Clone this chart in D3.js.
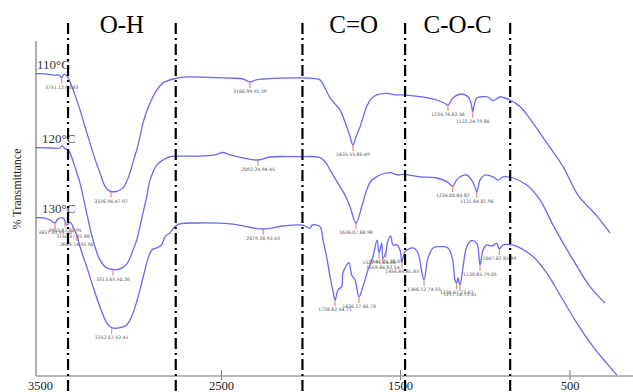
<!DOCTYPE html>
<html>
<head>
<meta charset="utf-8">
<script src="https://cdn.jsdelivr.net/npm/d3@7"></script>
<style>
  body { margin: 0; background: #fff; }
  svg { display: block; }
</style>
</head>
<body>
<svg id="chart" width="633" height="392"></svg>
<script>
// tick labels on the wavenumber axis (cm-1)
const tickValues = [3500, 2500, 1500, 500];

// band boundaries (wavenumber) and group names
const bandLines = [3345, 2750, 2045, 1470, 850];
const bands = [
  { name: "O-H", from: 3345, to: 2750 },
  { name: "C=O", from: 2045, to: 1470 },
  { name: "C-O-C", from: 1470, to: 850 }
];

const seriesNames = ["110°C", "120°C", "130°C"];

// [wavenumber, transmittance (stacked, arbitrary offset)]
const t110 = [
  [3522,100.8],[3472,100.7],[3417,100.3],[3395,100.3],[3380,99.5],[3367,100.5],[3351,100],
  [3334,98],[3307,93.7],[3279,88.7],[3251,83],[3224,77.7],[3196,72.3],[3169,67.7],[3141,63.3],
  [3124,62],[3108,61.5],[3080,61.5],[3058,62],[3041,62.7],[3025,64.3],[3003,67.7],[2986,71.3],
  [2966,75.3],[2948,79.7],[2931,84.3],[2912,88],[2892,91],[2855,95.3],[2820,97.7],[2765,99],
  [2689,99.7],[2561,99.5],[2450,99.3],[2377,99],[2338,98],[2304,98.7],[2265,99],[2170,99.3],
  [2075,99.4],[2003,99.3],[1947,98.7],[1919,96],[1891,92.7],[1863,90.7],[1835,88.7],[1798,83.1],
  [1780,80],[1763,77],[1746,79.7],[1723,83.1],[1686,89.8],[1662,92.3],[1630,93.7],[1574,94.2],
  [1528,93.7],[1482,93.7],[1382,93.1],[1283,92],[1240,91],[1217,90.3],[1187,92.7],[1136,94],
  [1099,93.1],[1081,91],[1071,88.1],[1060,91],[1047,92.7],[1010,93.1],[981,93],[951,91.8],
  [910,93],[851,92],[792,89.8],[715,84.3],[634,77.7],[538,69.8],[450,60.3],[344,53.7],[261,47.7]
];
const t120 = [
  [3522,76.1],[3445,76],[3390,76],[3378,76.7],[3362,75.8],[3345,75.3],[3334,74.3],[3307,69.7],
  [3279,64.3],[3242,54.3],[3207,45.3],[3169,38.7],[3131,36],[3097,35.5],[3069,35.5],[3041,36.3],
  [3021,37.3],[3003,39.3],[2986,42],[2966,45.3],[2948,49.7],[2931,54.3],[2912,59.3],[2892,65.3],
  [2855,70.3],[2820,72],[2782,73.1],[2745,73.3],[2634,73.3],[2533,73.7],[2489,74.5],[2450,73.7],
  [2377,72.7],[2293,72],[2226,73],[2077,73.1],[1947,72.8],[1913,71],[1891,68.7],[1835,63.1],
  [1807,60.3],[1779,56.4],[1746,51],[1714,56.4],[1686,62],[1662,65],[1630,66.4],[1589,67.5],
  [1556,67.8],[1511,67],[1482,67.2],[1382,66.4],[1283,66],[1224,64.8],[1189,63.3],[1170,65],
  [1146,66.4],[1106,67],[1077,65.3],[1060,63.3],[1047,61.4],[1037,63.3],[1028,65.3],[999,67],
  [951,66.4],[922,65.3],[892,66.4],[833,66],[752,63.7],[674,58.7],[597,50.3],[479,38.7],
  [379,29.8],[290,24.3]
];
const t130 = [
  [3522,52.8],[3483,52.7],[3445,52],[3417,51],[3401,52.3],[3373,52.7],[3362,51.6],[3352,50.3],[3334,51.3],
  [3318,49.8],[3297,47],[3279,43.1],[3242,36.4],[3207,29.8],[3169,23.1],[3131,17.7],[3104,16.1],
  [3058,16.1],[3021,17],[2986,21],[2948,28.7],[2910,37.7],[2892,41],[2876,42.3],[2855,42.7],
  [2828,43.7],[2809,46.4],[2782,47.7],[2754,49.8],[2727,50.7],[2634,51],[2450,50.7],[2265,49],
  [2154,50],[2042,50.3],[2003,49.3],[1992,50.3],[1947,49.8],[1930,45.3],[1910,39.8],[1891,33.1],
  [1874,28.1],[1863,25.3],[1846,28.7],[1826,29.8],[1819,34.3],[1798,37],[1785,37.8],[1770,33.7],
  [1751,32],[1729,26.4],[1707,29.8],[1679,35.3],[1651,39.8],[1628,45.3],[1617,41],[1602,44.3],
  [1596,39.3],[1578,41.4],[1571,44.3],[1552,46.7],[1539,43.7],[1518,43.7],[1500,42],[1488,38.1],
  [1471,41.4],[1423,42.7],[1394,41],[1372,34.8],[1358,32],[1335,39.3],[1305,42.7],[1264,43.1],
  [1217,42.7],[1189,38.7],[1176,32],[1166,31],[1158,32.7],[1146,30.3],[1128,36.4],[1106,43.1],
  [1077,45.1],[1047,44.3],[1028,37],[1010,42],[988,43.7],[959,43.3],[929,44.2],[914,42.3],
  [892,43.7],[841,43.7],[792,42.7],[715,39.8],[634,34.3],[556,27],[457,17.7],[361,9.8],
  [281,4.3],[220,0.3]
];

// peak annotations: [series index, wavenumber, label]
const peaks = [
  [0,3380,"3751.12,93.83"],[0,3108,"3326.96,47.97"],[0,2338,"2166.99,91.29"],
  [0,1763,"1635.55,86.49"],[0,1217,"1234.76,82.56"],[0,1071,"1132.24,79.80"],
  [1,3097,"3313.65,50.26"],[1,2293,"2092.24,94.45"],[1,1746,"1636.07,88.98"],
  [1,1189,"1234.00,84.82"],[1,1047,"1131.84,81.96"],
  [2,3417,"3837.33,93.20"],[2,3362,"3902.87,92.95"],[2,3318,"3750.37,91.88"],
  [2,3297,"3685.74,93.90"],[2,3104,"3352.67,52.41"],[2,2265,"2079.28,93.43"],
  [2,1863,"1738.82,64.71"],[2,1729,"1636.27,66.78"],[2,1617,"1522.91,84.86"],
  [2,1596,"1559.84,82.54"],[2,1578,"1541.71,78.09"],[2,1488,"1456.84,81.83"],
  [2,1358,"1366.12,74.55"],[2,1166,"1220.67,72.07"],[2,1146,"1217.18,71.41"],
  [2,1028,"1130.85,79.05"],[2,914,"1047.82,85.99"]
];

const series = [t110, t120, t130];

const svg = d3.select("#chart");
const width = 633, height = 392;
const axisY = 376, axisX = 36, axisTop = 41;

// the printed axis is slightly uneven, so map through the tick positions
const x = d3.scaleLinear()
  .domain([3500, 2500, 1500, 500])
  .range([40, 221, 400, 569.5]);
const y = d3.scaleLinear().domain([0, 100]).range([axisY, 76]);

// frame
svg.append("line")
  .attr("x1", axisX).attr("x2", axisX)
  .attr("y1", axisTop).attr("y2", axisY)
  .attr("stroke", "#9a9a9a").attr("stroke-width", 1.6);

const xAxis = svg.append("g")
  .attr("transform", "translate(0," + axisY + ")")
  .call(d3.axisBottom(x).tickValues(tickValues).tickSize(4).tickFormat(d3.format("d")));
xAxis.select(".domain").remove();
xAxis.append("line")
  .attr("x1", axisX).attr("x2", width)
  .attr("stroke", "#a0a0a0").attr("stroke-width", 1.4);
xAxis.selectAll(".tick line")
  .attr("y1", -6).attr("y2", 4)
  .attr("stroke", "#777");
xAxis.selectAll(".tick").filter(d => d === 3500).select("line").remove();
xAxis.selectAll(".tick text")
  .attr("y", 13.5).attr("dy", null)
  .attr("fill", "#222")
  .style("font-family", "'Liberation Serif', 'DejaVu Serif', serif")
  .style("font-size", "12.5px");

// y label
svg.append("text")
  .attr("transform", "translate(21,189) rotate(-90)")
  .attr("text-anchor", "middle")
  .style("font-family", "'Liberation Serif', serif")
  .style("font-size", "12px")
  .attr("fill", "#222")
  .text("% Transmittance");

// spectra
const line = d3.line()
  .x(d => x(d[0]))
  .y(d => y(d[1]))
  .curve(d3.curveCatmullRom.alpha(0.5));

svg.selectAll(".trace")
  .data(series)
  .join("path")
  .attr("class", "trace")
  .attr("d", line)
  .attr("fill", "none")
  .attr("stroke", "#6868f4")
  .attr("stroke-width", 1.3);

// series labels
svg.selectAll(".slabel")
  .data(series)
  .join("text")
  .attr("class", "slabel")
  .attr("x", (d, i) => x(d[0][0]) + (i === 0 ? 1 : 6))
  .attr("y", d => y(d[0][1]) - 5)
  .style("font-family", "'Liberation Serif', serif")
  .style("font-size", "13px")
  .attr("fill", "#333")
  .text((d, i) => seriesNames[i]);

// peak markers
function valueAt(s, w) {
  const p = d3.least(s, d => Math.abs(d[0] - w));
  return p[1];
}
const pk = svg.append("g");
peaks.forEach(p => {
  const px = x(p[1]);
  const py = y(valueAt(series[p[0]], p[1]));
  pk.append("line")
    .attr("x1", px).attr("x2", px)
    .attr("y1", py + 0.5).attr("y2", py + 6)
    .attr("stroke", "#f07a7a").attr("stroke-width", 1.1);
  pk.append("text")
    .attr("x", px).attr("y", py + 11)
    .attr("text-anchor", "middle")
    .style("font-family", "'DejaVu Sans', sans-serif")
    .style("font-size", "4.6px")
    .attr("fill", "#555")
    .text(p[2]);
});

// band boundaries
svg.selectAll(".band")
  .data(bandLines)
  .join("line")
  .attr("class", "band")
  .attr("x1", d => x(d)).attr("x2", d => x(d))
  .attr("y1", 23).attr("y2", height)
  .attr("stroke", "#000")
  .attr("stroke-width", 2.2)
  .attr("stroke-dasharray", "11,4,2,4");

svg.selectAll(".bandname")
  .data(bands)
  .join("text")
  .attr("class", "bandname")
  .attr("x", d => (x(d.from) + x(d.to)) / 2)
  .attr("y", 33)
  .attr("text-anchor", "middle")
  .style("font-family", "'Liberation Serif', serif")
  .style("font-size", "25px")
  .attr("fill", "#000")
  .text(d => d.name);
</script>
</body>
</html>
